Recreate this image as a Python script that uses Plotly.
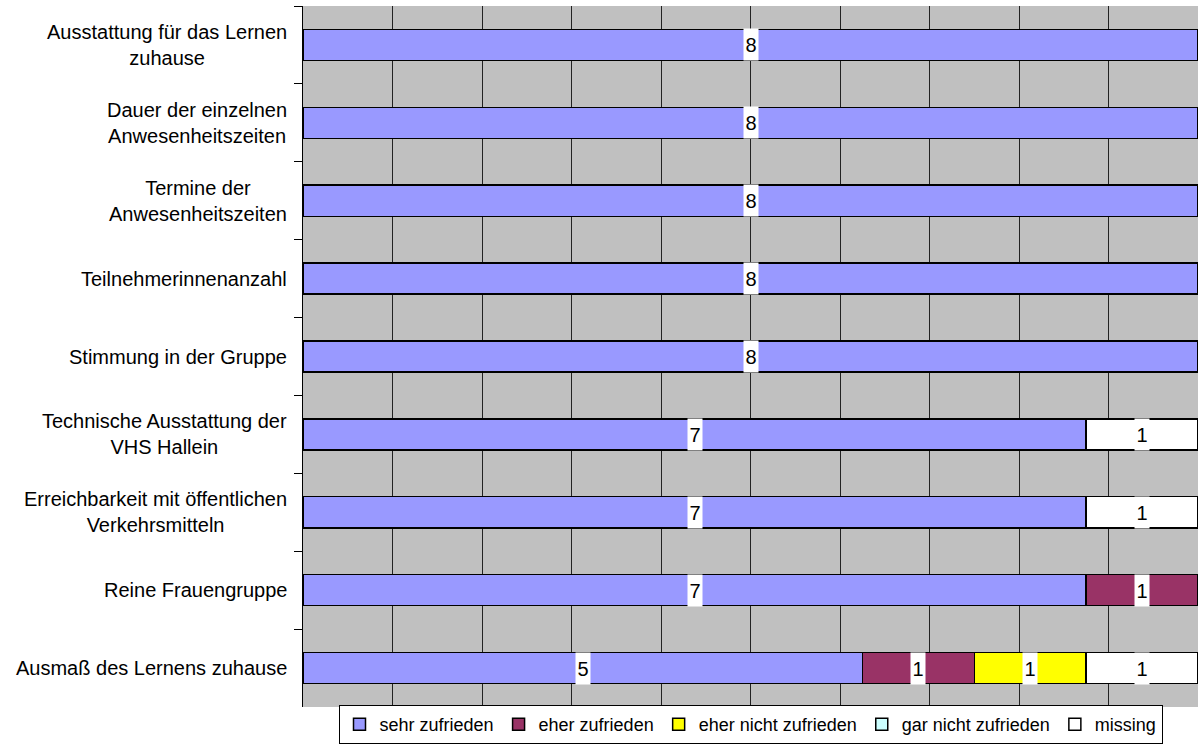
import plotly.graph_objects as go

categories = [
    "Ausstattung für das Lernen<br>zuhause",
    "Dauer der einzelnen<br>Anwesenheitszeiten",
    "Termine der<br>Anwesenheitszeiten",
    "Teilnehmerinnenanzahl",
    "Stimmung in der Gruppe",
    "Technische Ausstattung der<br>VHS Hallein",
    "Erreichbarkeit mit öffentlichen<br>Verkehrsmitteln",
    "Reine Frauengruppe",
    "Ausmaß des Lernens zuhause",
]
series_names = ["sehr zufrieden", "eher zufrieden", "eher nicht zufrieden",
                "gar nicht zufrieden", "missing"]
sehr_zufrieden = [8, 8, 8, 8, 8, 7, 7, 7, 5]
eher_zufrieden = [0, 0, 0, 0, 0, 0, 0, 1, 1]
eher_nicht_zufrieden = [0, 0, 0, 0, 0, 0, 0, 0, 1]
gar_nicht_zufrieden = [0, 0, 0, 0, 0, 0, 0, 0, 0]
missing = [0, 0, 0, 0, 0, 1, 1, 0, 1]
colors = ["#9999FF", "#993366", "#FFFF00", "#CCFFFF", "#FFFFFF"]

series = [sehr_zufrieden, eher_zufrieden, eher_nicht_zufrieden,
          gar_nicht_zufrieden, missing]

FONT = "Liberation Sans, Arial, sans-serif"

fig = go.Figure()
for name, vals, col in zip(series_names, series, colors):
    fig.add_trace(go.Bar(
        y=categories, x=vals, name=name, orientation="h",
        marker=dict(color=col, line=dict(color="black", width=1.5)),
        hoverinfo="skip",
    ))

annotations = []
totals = [sum(s[i] for s in series) for i in range(len(categories))]
for i, cat in enumerate(categories):
    cum = 0
    for vals in series:
        v = vals[i]
        if v > 0:
            xc = (cum + v / 2) / totals[i] * 100
            annotations.append(dict(
                x=xc, y=cat, xref="x", yref="y", text=str(v), showarrow=False,
                font=dict(family=FONT, size=20, color="black"),
                bgcolor="white", width=12, height=29, borderpad=1,
                valign="middle",
            ))
        cum += v
    annotations.append(dict(
        x=0, y=cat, xref="paper", yref="y", text=cat, showarrow=False,
        xanchor="right", xshift=-14, align="center",
        font=dict(family=FONT, size=20, color="black"),
    ))

fig.update_layout(
    width=1198, height=744,
    barmode="stack", barnorm="percent", bargap=0.6,
    plot_bgcolor="#C0C0C0", paper_bgcolor="white",
    margin=dict(l=303, r=0, t=6, b=37, autoexpand=False),
    font=dict(family=FONT, size=20, color="black"),
    xaxis=dict(range=[0, 100], dtick=10, showticklabels=False,
               showgrid=True, gridcolor="#222222", gridwidth=1,
               zeroline=False, showline=False, fixedrange=True),
    yaxis=dict(autorange="reversed", showticklabels=False,
               ticks="outside", tickson="boundaries", ticklen=8,
               tickcolor="black", showline=True, linecolor="black",
               linewidth=1, showgrid=False, fixedrange=True),
    legend=dict(orientation="h", x=0.5, xanchor="center",
                yref="container", y=0, yanchor="bottom",
                bordercolor="black", borderwidth=1,
                font=dict(family=FONT, size=18), traceorder="normal",
                bgcolor="white", itemwidth=30),
    annotations=annotations,
    showlegend=True,
)

fig.write_html("out.html", config={"displayModeBar": False},
               post_script="document.body.style.margin='0';")
